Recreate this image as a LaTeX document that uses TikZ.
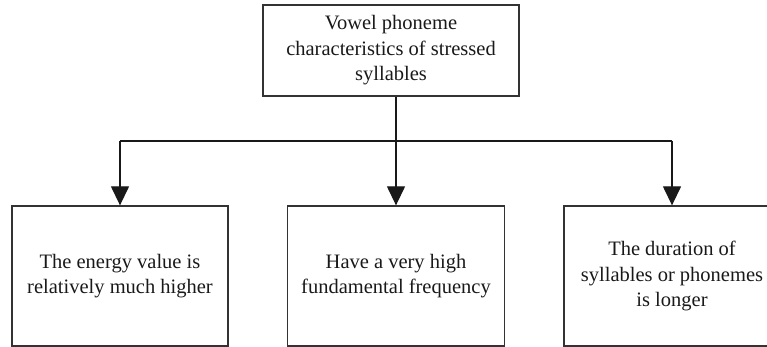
\documentclass[tikz,border=0pt]{standalone}
\usepackage{fontspec}
\setmainfont{Liberation Serif}
\usetikzlibrary{arrows.meta}
\begin{document}
\begin{tikzpicture}[x=1pt,y=1pt,
  box/.style={draw=black!80, line width=1.3pt, align=center, inner sep=0pt,
    font=\fontsize{20.5}{25.5}\selectfont, text=black!90},
  link/.style={draw=black!90, line width=1.3pt},
  tip/.style={-{Triangle[length=19pt,width=18pt]}}]
\useasboundingbox (0,0) rectangle (767,347);
% top heading box
\node[box, minimum width=256pt, minimum height=91pt] (top) at (391,296.5)
  {Vowel phoneme\\characteristics of stressed\\syllables};
% three characteristic boxes
\node[box, minimum width=216pt, minimum height=140pt] (left) at (120,71)
  {The energy value is\\relatively much higher};
\node[box, minimum width=217pt, minimum height=140pt] (mid) at (396,71)
  {Have a very high\\fundamental frequency};
\node[box, minimum width=216pt, minimum height=140pt] (right) at (672,71)
  {The duration of\\syllables or phonemes\\is longer};
% branching connectors
\coordinate (split) at (396,206);
\coordinate (bl) at (left.north |- split);
\coordinate (br) at (right.north |- split);
\draw[link] (top.south -| split) -- (split);
\draw[link] (bl) -- (br);
\draw[link, tip] (bl) -- (left.north);
\draw[link, tip] (split) -- (mid.north);
\draw[link, tip] (br) -- (right.north);
\end{tikzpicture}
\end{document}
